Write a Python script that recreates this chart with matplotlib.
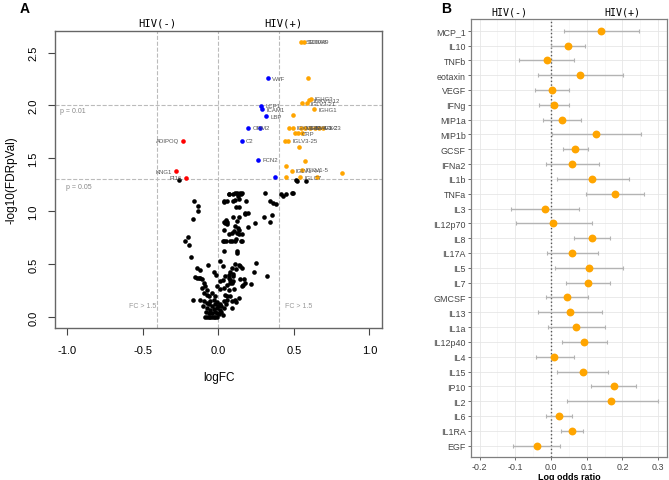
import numpy as np
import matplotlib.pyplot as plt

# ---------------- Datos panel A (volcano) ----------------
# puntos no significativos (negros)
black_x = [-0.257, 0.513, 0.518, 0.579,
           -0.163, -0.137, -0.137, -0.167, -0.203, -0.218, -0.196, -0.18,
           0.068, 0.10, 0.035, 0.057, 0.10, 0.11, 0.122, 0.133, 0.145, 0.13, 0.14, 0.11, 0.185, 0.14,
           0.31, 0.343, 0.365, 0.38, 0.431, 0.447, 0.486, 0.417, 0.497,
           0.10, 0.134, 0.178, 0.2, 0.123, 0.304, 0.354, 0.339, 0.244, 0.2, 0.106, 0.123, 0.134,
           0.09, 0.112, 0.156, 0.123, 0.134, 0.156,
           0.035, 0.046, 0.061, 0.035, 0.068, 0.09, 0.035, 0.053, 0.075, 0.04,
           -0.07, 0.013, 0.031, -0.14, -0.123, -0.031, -0.013, -0.152, -0.13, -0.108, 0.075, 0.10, 0.046,
           0.013, 0.031, -0.097, -0.086, -0.075, -0.009, 0.013, 0.035, 0.079, 0.068, -0.097, -0.075,
           -0.167, -0.119, -0.097, -0.075, -0.053, -0.031, -0.009, 0.013, 0.035, 0.057, 0.09,
           -0.075, -0.053, -0.031, -0.009, 0.013, 0.035, -0.042, -0.02, 0.002,
           -0.086, -0.075, -0.064, -0.053, -0.042, -0.031, -0.02, -0.009,
           -0.064, -0.042, -0.02, 0.046, 0.079, 0.068, 0.10,
           0.123, 0.112, 0.134, 0.145, 0.156, 0.251, 0.238, 0.321, 0.097, 0.145, 0.167, 0.178, 0.163,
           0.156, 0.216, 0.079, 0.09, 0.112, 0.119, 0.09, 0.106,
           -0.10, -0.06, -0.04, 0.0, 0.02, -0.02, -0.08, -0.06, 0.02, 0.05, 0.06, -0.11, -0.12, -0.14,
           0.06, 0.12, 0.14, 0.07, 0.09, 0.03, 0.05, 0.06, 0.11, 0.13, 0.15, 0.12, 0.07, 0.04, 0.15,
           0.16, 0.12, 0.18, -0.01, 0.03]
black_y = [1.292, 1.295, 1.283, 1.283,
           1.096, 1.048, 1.001, 0.922, 0.758, 0.717, 0.679, 0.568,
           1.166, 1.166, 1.10, 1.095, 1.10, 1.169, 1.172, 1.166, 1.175, 1.14, 1.12, 1.105, 1.096, 1.04,
           1.169, 1.10, 1.08, 1.064, 1.143, 1.159, 1.169, 1.16, 1.175,
           0.948, 0.948, 0.979, 0.979, 0.906, 0.944, 0.963, 0.90, 0.884, 0.853, 0.81, 0.796, 0.827,
           0.723, 0.723, 0.723, 0.622, 0.78, 0.78,
           0.897, 0.884, 0.882, 0.827, 0.78, 0.796, 0.722, 0.722, 0.722, 0.628,
           0.496, 0.527, 0.486, 0.464, 0.442, 0.423, 0.401, 0.379, 0.37, 0.36, 0.423, 0.391, 0.385,
           0.337, 0.347, 0.322, 0.29, 0.259, 0.29, 0.265, 0.275, 0.322, 0.259, 0.227, 0.211,
           0.164, 0.164, 0.148, 0.133, 0.148, 0.164, 0.138, 0.126, 0.148, 0.164, 0.148,
           0.085, 0.069, 0.076, 0.085, 0.069, 0.085, 0.038, 0.044, 0.031,
           0.0, 0.0, 0.0, 0.0, 0.0, 0.0, 0.0, 0.0,
           0.195, 0.227, 0.195, 0.211, 0.195, 0.40, 0.337,
           0.607, 0.505, 0.496, 0.48, 0.464, 0.512, 0.423, 0.391, 0.41, 0.36, 0.36, 0.322, 0.306,
           0.29, 0.313, 0.35, 0.32, 0.164, 0.138, 0.085, 0.265,
           0.10, 0.12, 0.10, 0.10, 0.10, 0.12, 0.05, 0.04, 0.05, 0.12, 0.20, 0.27, 0.37, 0.37,
           0.30, 0.45, 0.18, 0.37, 0.46, 0.72, 0.92, 0.90, 0.86, 0.84, 0.72, 0.74, 1.16, 1.09, 1.16,
           1.17, 1.04, 0.97, 0.04, 0.02]

# significativos y mas altos en HIV(+) (naranja)
orange_x = [0.55, 0.565, 0.596, 0.551, 0.584, 0.602, 0.612, 0.636, 0.493,
            0.471, 0.493, 0.548, 0.574, 0.607, 0.640, 0.668, 0.691,
            0.508, 0.526, 0.553, 0.442, 0.464, 0.535, 0.572, 0.449, 0.486, 0.551,
            0.82, 0.447, 0.541, 0.651]
orange_y = [2.60, 2.60, 2.256, 2.022, 2.022, 2.05, 2.063, 1.965, 1.908,
            1.79, 1.79, 1.79, 1.79, 1.79, 1.79, 1.79, 1.79,
            1.735, 1.735, 1.735, 1.665, 1.665, 1.608, 1.472, 1.431, 1.384, 1.39,
            1.361, 1.32, 1.32, 1.32]
orange_lab = ["S100A8", "S100A9", "", "", "IGLV3-21", "IGKV1-12", "IGHG3", "IGHG1", "",
              "", "IGKV1-5", "IGHM", "IGKV4-1", "IGHV3-23", "", "IGKC", "",
              "", "CRP", "", "", "IGLV3-25", "", "", "", "IGLV1-44", "IGKV1-5",
              "", "", "IGLC7", ""]

# significativos, azul
blue_x = [0.328, 0.284, 0.290, 0.315, 0.200, 0.275, 0.156, 0.262, 0.376]
blue_y = [2.256, 1.996, 1.965, 1.896, 1.788, 1.788, 1.665, 1.485, 1.32]
blue_lab = ["VWF", "LCP1", "ICAM1", "LBP", "ORM2", "", "C2", "FCN2", ""]

# significativos y mas altos en HIV(-) (rojo)
red_x = [-0.231, -0.282, -0.211]
red_y = [1.665, 1.377, 1.317]
red_lab = ["ADIPOQ", "KNG1", "PI16"]

# ---------------- Datos panel B (log odds ratio) ----------------
citocinas = ["MCP_1", "IL10", "TNFb", "eotaxin", "VEGF", "IFNg", "MIP1a", "MIP1b", "GCSF",
             "IFNa2", "IL1b", "TNFa", "IL3", "IL12p70", "IL8", "IL17A", "IL5", "IL7", "GMCSF",
             "IL13", "IL1a", "IL12p40", "IL4", "IL15", "IP10", "IL2", "IL6", "IL1RA", "EGF"]
lor = [0.141, 0.048, -0.012, 0.082, 0.002, 0.008, 0.031, 0.127, 0.068,
       0.059, 0.116, 0.178, -0.017, 0.006, 0.114, 0.059, 0.107, 0.103, 0.044,
       0.052, 0.071, 0.093, 0.008, 0.090, 0.176, 0.169, 0.022, 0.058, -0.040]
lor_lo = [0.037, 0.001, -0.089, -0.036, -0.046, -0.034, -0.022, 0.004, 0.035,
          -0.013, 0.016, 0.099, -0.111, -0.098, 0.065, -0.012, 0.012, 0.041, -0.013,
          -0.037, -0.008, 0.031, -0.043, 0.018, 0.111, 0.046, -0.013, 0.027, -0.106]
lor_hi = [0.246, 0.096, 0.065, 0.203, 0.051, 0.051, 0.083, 0.251, 0.103,
          0.134, 0.218, 0.261, 0.078, 0.114, 0.164, 0.132, 0.202, 0.166, 0.103,
          0.143, 0.150, 0.157, 0.064, 0.161, 0.237, 0.299, 0.059, 0.090, 0.025]

fig = plt.figure(figsize=(6.69, 4.81), dpi=100)
plt.rcParams['font.family'] = ['Liberation Sans', 'DejaVu Sans']

# ---------------- Panel A ----------------
ax = fig.add_axes([0.0822, 0.316, 0.489, 0.6175])
gris = '#bbbbbb'
for xv in [-0.405, 0.0, 0.405]:
    ax.axvline(xv, color=gris, ls='--', lw=0.8, zorder=1)
for yv in [2.0, 1.301]:
    ax.axhline(yv, color=gris, ls='--', lw=0.8, zorder=1)

ax.scatter(black_x, black_y, s=11, c='black', lw=0, zorder=3)
ax.scatter(orange_x, orange_y, s=11, c='#FFA500', lw=0, zorder=3)
ax.scatter(blue_x, blue_y, s=11, c='#0000FF', lw=0, zorder=3)
ax.scatter(red_x, red_y, s=11, c='#FF0000', lw=0, zorder=3)

# etiquetas de los puntos
for xs, ys, labs in [(orange_x, orange_y, orange_lab), (blue_x, blue_y, blue_lab)]:
    for xv, yv, lab in zip(xs, ys, labs):
        if lab:
            ax.annotate(lab, (xv, yv), xytext=(3, 0), textcoords='offset points',
                        fontsize=4.3, color='#555555', va='center', ha='left', zorder=4)
for xv, yv, lab in zip(red_x, red_y, red_lab):
    ax.annotate(lab, (xv, yv), xytext=(-3, 0), textcoords='offset points',
                fontsize=4.3, color='#555555', va='center', ha='right', zorder=4)

ax.text(-1.05, 1.95, 'p = 0.01', fontsize=5, color='#888888', va='center')
ax.text(-1.01, 1.235, 'p = 0.05', fontsize=5, color='#888888', va='center')
ax.text(-0.50, 0.11, 'FC > 1.5', fontsize=5, color='#999999', ha='center', va='center')
ax.text(0.53, 0.11, 'FC > 1.5', fontsize=5, color='#999999', ha='center', va='center')

ax.set_xlim(-1.08, 1.084)
ax.set_ylim(-0.104, 2.704)
ax.set_xticks([-1.0, -0.5, 0.0, 0.5, 1.0])
ax.set_xticklabels(['-1.0', '-0.5', '0.0', '0.5', '1.0'])
ax.set_yticks([0.0, 0.5, 1.0, 1.5, 2.0, 2.5])
ax.set_yticklabels(['0.0', '0.5', '1.0', '1.5', '2.0', '2.5'], rotation=90, va='center')
ax.tick_params(labelsize=8, length=5, width=0.8, color='#444444', pad=7)
for sp in ax.spines.values():
    sp.set_color('#666666')
    sp.set_linewidth(1.0)
ax.set_xlabel('logFC', fontsize=8.5, labelpad=12)
ax.set_ylabel('-log10(FDRpVal)', fontsize=8.5, labelpad=8)

fig.text(0.235, 0.952, 'HIV(-)', family='DejaVu Sans Mono', fontsize=7.6, ha='center', va='center')
fig.text(0.423, 0.952, 'HIV(+)', family='DejaVu Sans Mono', fontsize=7.6, ha='center', va='center')
fig.text(0.037, 0.982, 'A', fontsize=10, fontweight='bold', ha='center', va='center')

# ---------------- Panel B ----------------
bx = fig.add_axes([0.7036, 0.0478, 0.2934, 0.9106])
pos = np.arange(len(citocinas))
lor = np.array(lor)
err = [lor - np.array(lor_lo), np.array(lor_hi) - lor]
bx.set_axisbelow(True)
bx.set_xticks([-0.2, -0.1, 0.0, 0.1, 0.2, 0.3])
bx.set_xticks([-0.15, -0.05, 0.05, 0.15, 0.25], minor=True)
bx.grid(True, which='major', color='#e6e6e6', lw=0.6)
bx.grid(True, which='minor', axis='x', color='#f2f2f2', lw=0.4)
bx.axvline(0, color='#555555', ls=':', lw=1.0, zorder=2)
bx.errorbar(lor, pos, xerr=err, fmt='none', ecolor='#b3b3b3', elinewidth=1.0,
            capsize=1.5, capthick=0.8, zorder=3)
bx.scatter(lor, pos, s=32, c='#FFA500', lw=0, zorder=4)
bx.set_yticks(pos)
bx.set_yticklabels(citocinas)
bx.set_ylim(len(citocinas) - 1 + 0.77, -0.79)
bx.set_xlim(-0.225, 0.325)
bx.set_xticklabels(['-0.2', '-0.1', '0.0', '0.1', '0.2', '0.3'])
bx.tick_params(labelsize=6.4, length=2, width=0.6, color='#555555', labelcolor='#444444', pad=1.5)
bx.tick_params(which='minor', length=0)
for sp in bx.spines.values():
    sp.set_color('#7f7f7f')
    sp.set_linewidth(0.9)
bx.set_xlabel('Log odds ratio', fontsize=6.5, fontweight='bold', labelpad=1)

fig.text(0.762, 0.973, 'HIV(-)', family='DejaVu Sans Mono', fontsize=7.2, ha='center', va='center')
fig.text(0.930, 0.973, 'HIV(+)', family='DejaVu Sans Mono', fontsize=7.2, ha='center', va='center')
fig.text(0.667, 0.982, 'B', fontsize=10, fontweight='bold', ha='center', va='center')

plt.savefig('out.png', dpi=100)
